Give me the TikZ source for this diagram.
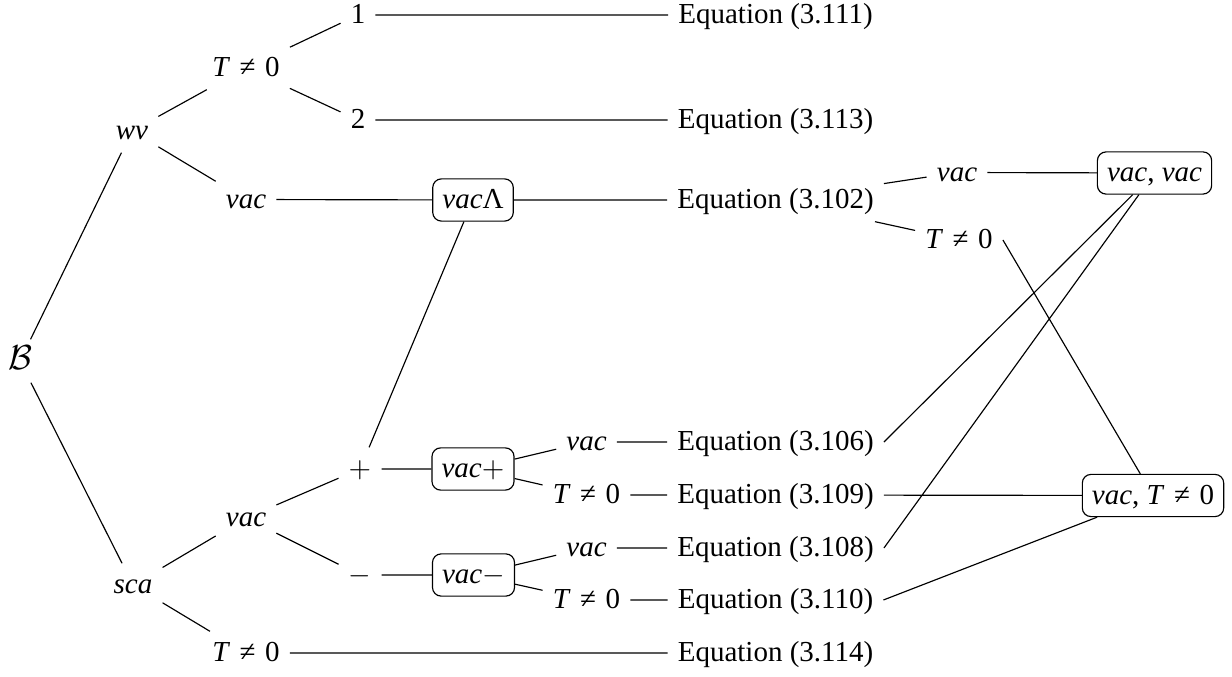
\documentclass[tikz,border=0pt]{standalone}
\usepackage{fontspec}
\setmainfont{Liberation Serif}
\newcommand{\Tne}{\textit{T}\hspace{.33em}≠\hspace{.33em}0}
\newcommand{\vc}{\textit{vac}}
\begin{document}
\begin{tikzpicture}[x=0.345pt,y=-0.345pt,
  every node/.style={text height=7pt,text depth=0.9pt,inner sep=3.33pt,font=\fontsize{10}{12}\selectfont},
  box/.style={draw,rounded corners=3pt},
  edge/.style={line width=0.4pt}]
\useasboundingbox (0,0) rectangle (1232,677);
% nodes
\node (B) at (20,361) {\fontsize{11.5}{13}\selectfont$\mathcal{B}$};
\node (wv) at (132,131) {\textit{wv}};
\node (sca) at (133,585) {\textit{sca}};
\node (t1) at (246,68) {\Tne};
\node (one) at (358,15) {1};
\node (two) at (358,120) {2};
\node (v1) at (246,199.5) {\vc};
\node[box] (vL) at (473,200) {\vc Λ};
\node (e111) at (775.5,15) {Equation (3.111)};
\node (e113) at (775.5,120) {Equation (3.113)};
\node (e102) at (775.5,200) {Equation (3.102)};
\node (vr) at (957,172.5) {\vc};
\node (tr) at (959,240) {\Tne};
\node[box] (vv) at (1154.5,173) {\vc, \vc};
\node[box] (vt) at (1153,495.5) {\vc, \Tne};
\node (v2) at (246,518) {\vc};
\node (t3) at (246,653) {\Tne};
\node (plus) at (360,469) {$+$};
\node (minus) at (360,575) {$-$};
\node[box] (vp) at (473,469) {\vc$+$};
\node[box] (vm) at (473.5,575) {\vc$-$};
\node (va) at (586.5,442) {\vc};
\node (ta) at (586.5,495) {\Tne};
\node (vb) at (586.5,548) {\vc};
\node (tb) at (586.5,600) {\Tne};
\node (e106) at (775.5,442) {Equation (3.106)};
\node (e109) at (775.5,495) {Equation (3.109)};
\node (e108) at (775.5,548) {Equation (3.108)};
\node (e110) at (775.5,600) {Equation (3.110)};
\node (e114) at (775.5,653) {Equation (3.114)};
% edges
\draw[edge] (B)--(wv) (B)--(sca)
  (wv)--(t1) (wv)--(v1) (t1)--(one) (t1)--(two)
  (one)--(e111) (two)--(e113)
  (v1)--(vL) (vL)--(e102) (e102)--(vr) (e102)--(tr)
  (vr)--(vv) (tr.east)--(vt)
  (sca)--(v2) (sca)--(t3) (t3)--(e114)
  (v2)--(plus) (v2)--(minus) (plus)--(vp) (minus)--(vm) (plus)--(vL)
  (vp)--(va) (vp)--(ta) (vm)--(vb) (vm)--(tb)
  (va)--(e106) (ta)--(e109) (vb)--(e108) (tb)--(e110)
  (e106.east)--(vv) (e108.east)--(vv) (e109)--(vt) (e110.east)--(vt);
\end{tikzpicture}
\end{document}
